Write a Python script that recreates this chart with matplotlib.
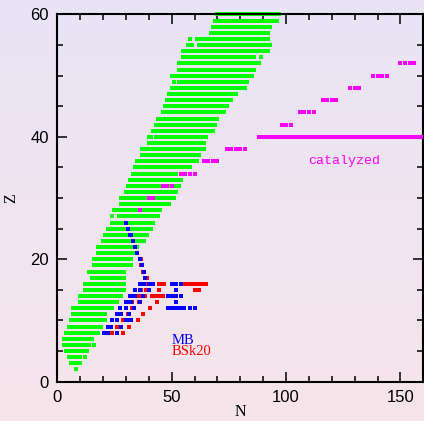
import numpy as np
import matplotlib.pyplot as plt
from matplotlib.ticker import MultipleLocator
from matplotlib.colors import LinearSegmentedColormap

# measured nuclei: runs of neutron number N for each proton number Z
known_z = [60, 59, 58, 57, 56, 56, 56, 55, 55, 54, 53, 53, 52, 51, 50, 49, 49,
           48, 47, 46, 45, 44, 43, 42, 41, 40, 40, 39, 38, 37, 36, 35, 34, 33,
           32, 31, 30, 29, 29, 28, 27, 27, 26, 25, 24, 23, 22, 21, 20, 19, 18,
           17, 16, 15, 14, 13, 12, 11, 10, 9, 8, 7, 6, 6, 5, 4, 4, 3, 2]
known_n0 = [70, 69, 68, 67, 58, 61, 63, 57, 62, 55, 55, 89, 53, 53, 50, 51, 53,
            50, 49, 48, 47, 46, 44, 43, 42, 40, 43, 40, 37, 37, 35, 34, 33, 32,
            31, 30, 28, 28, 49, 25, 24, 27, 24, 22, 21, 20, 18, 18, 16, 16, 14,
            15, 12, 12, 10, 10, 7, 7, 6, 5, 4, 3, 3, 16, 4, 5, 12, 6, 8]
known_n1 = [97, 96, 93, 92, 58, 61, 92, 59, 93, 92, 86, 89, 88, 86, 85, 51, 83,
            82, 78, 76, 74, 73, 70, 69, 68, 41, 65, 64, 64, 62, 61, 58, 52, 54,
            53, 52, 51, 47, 49, 45, 24, 44, 42, 41, 39, 38, 35, 34, 32, 32, 29,
            29, 29, 29, 28, 26, 24, 21, 21, 19, 18, 15, 14, 16, 13, 10, 12, 10, 8]

# catalyzed crust (single nuclei plus the Z=40 run)
cat_z = [26, 28, 30, 30, 32, 32, 32, 34, 34, 34, 34, 36, 36, 36, 36,
         38, 38, 38, 38, 38, 40, 40, 42, 42, 42, 44, 44, 44, 44,
         46, 46, 46, 46, 48, 48, 48, 50, 50, 50, 50,
         52, 52, 52, 52]
cat_n0 = [30, 36, 40, 42, 46, 48, 50, 54, 56, 58, 60, 64, 66, 68, 70,
          74, 76, 78, 80, 82, 88, 90, 98, 100, 102, 106, 108, 110, 112,
          116, 118, 120, 122, 128, 130, 132, 138, 140, 142, 144,
          150, 152, 154, 156]
cat_n1 = [30, 36, 40, 42, 46, 48, 50, 54, 56, 58, 60, 64, 66, 68, 70,
          74, 76, 78, 80, 82, 88, 161, 98, 100, 102, 106, 108, 110, 112,
          116, 118, 120, 122, 128, 130, 132, 138, 140, 142, 144,
          150, 152, 154, 156]

# accreted crust, MB mass model
mb_z = [26, 25, 24, 23, 22, 21, 20, 19, 18, 17,
        16, 16, 16, 16, 16, 16, 16,
        15, 15, 15, 15,
        14, 14, 14, 14, 14, 14, 14,
        13, 13, 13, 13,
        12, 12, 12, 12, 12, 12,
        11, 11, 11,
        10, 10, 10, 10,
        9, 9, 9,
        8, 8, 8]
mb_n0 = [30, 31, 32, 33, 34, 35, 36, 37.2, 38, 38.5,
         36, 38, 40.2, 42, 50.1, 52.1, 54.1,
         34, 36, 40.3, 52.1,
         32, 34, 37.5, 48.2, 50.1, 52.1, 54.1,
         30, 32, 36, 52.1,
         27.6, 30, 33.6, 48.4, 58, 60,
         26.3, 27.8, 31.5,
         24, 26.2, 30, 32,
         22.1, 23.6, 27.7,
         20.5, 22.1, 26.2]
mb_n1 = [30, 31, 32, 33, 34, 35, 36, 37.2, 38, 38.5,
         36, 38, 40.2, 42, 50.1, 52.1, 54.1,
         34, 36, 40.3, 52.1,
         32, 34, 37.5, 48.2, 50.1, 52.1, 54.1,
         30, 32, 36, 52.1,
         27.6, 30, 33.6, 55.6, 58, 60,
         26.3, 27.8, 31.5,
         24, 26.2, 30, 32,
         22.1, 23.6, 27.7,
         20.5, 22.1, 26.2]

# accreted crust, BSk20
bsk_z = [20, 19, 18, 17,
         16, 16, 16, 16,
         15, 15, 15, 15,
         14, 14, 14,
         13, 13, 13,
         12, 12,
         11, 11,
         10, 10, 10,
         9, 9,
         8, 8, 8]
bsk_n0 = [36.5, 36.7, 37.5, 39,
          39, 41, 44.5, 54,
          36.5, 38.9, 44.3, 60,
          33.5, 36.8, 41.4,
          32.5, 35.5, 43.4,
          32.7, 40.5,
          30.8, 37.3,
          26, 28.6, 35.1,
          26.3, 31.3,
          21.5, 23.9, 28.6]
bsk_n1 = [36.5, 36.7, 37.5, 39,
          39, 41, 46.5, 65,
          36.5, 38.9, 44.3, 62,
          35, 38.5, 46.2,
          32.5, 35.5, 43.4,
          32.7, 40.5,
          30.8, 37.3,
          26, 28.6, 35.1,
          26.3, 31.3,
          21.5, 23.9, 28.6]

fig = plt.figure(figsize=(4.24, 4.21), dpi=100)

# soft lavender-to-pink backdrop
bg = fig.add_axes([0, 0, 1, 1], zorder=-1)
cmap = LinearSegmentedColormap.from_list('bg', ['#f7e4ea', '#e8e5f6'])
bg.imshow(np.linspace(0, 1, 256)[:, None], aspect='auto', cmap=cmap,
          origin='lower', extent=[0, 1, 0, 1])
bg.axis('off')

ax = fig.add_axes([0.1351, 0.0934, 0.8634, 0.8722])
ax.patch.set_alpha(0)

w = 1.75   # marker width in N
h = 0.65   # marker height in Z


def runs(z, n0, n1, color, zorder, clip=True):
    n0 = np.asarray(n0, float)
    n1 = np.asarray(n1, float)
    ax.barh(z, n1 - n0 + w, left=n0 - w / 2, height=h, color=color,
            linewidth=0, clip_on=clip, zorder=zorder)


runs(known_z, known_n0, known_n1, '#00ff00', 2, clip=False)
runs(cat_z, cat_n0, cat_n1, '#ff00ff', 3)
runs(bsk_z, bsk_n0, bsk_n1, '#ff0000', 4)
runs(mb_z, mb_n0, mb_n1, '#0000ff', 5)

ax.text(125.3, 36.1, 'catalyzed', color='#ff00ff', fontsize=9.5,
        family='Liberation Mono', ha='center', va='center')
ax.text(50, 6.8, 'MB', color='#0000ff', fontsize=10.5,
        family='Liberation Serif', ha='left', va='center')
ax.text(50, 4.9, 'BSk20', color='#ff0000', fontsize=10.5,
        family='Liberation Serif', ha='left', va='center')

ax.set_xlim(0, 160)
ax.set_ylim(0, 60)
ax.xaxis.set_major_locator(MultipleLocator(50))
ax.xaxis.set_minor_locator(MultipleLocator(10))
ax.yaxis.set_major_locator(MultipleLocator(20))
ax.yaxis.set_minor_locator(MultipleLocator(5))
ax.tick_params(which='both', direction='in', top=True, right=True,
               width=1.1, labelsize=12, pad=6)
ax.tick_params(which='major', length=7.5)
ax.tick_params(which='minor', length=4)
for t in ax.get_xticklabels() + ax.get_yticklabels():
    t.set_family('Liberation Sans')
for sp in ax.spines.values():
    sp.set_linewidth(1.5)

ax.set_xlabel('N', family='Liberation Serif', fontsize=11.5, labelpad=-1)
ax.set_ylabel('Z', family='Liberation Serif', fontsize=11.5, labelpad=8)

plt.savefig('out.png', dpi=100)
